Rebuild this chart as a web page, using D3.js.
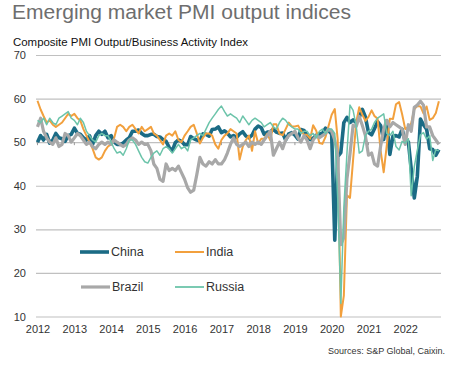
<!DOCTYPE html>
<html><head><meta charset="utf-8">
<script src="https://cdn.jsdelivr.net/npm/d3@7"></script>
<style>
body{margin:0;background:#fff;}
svg{display:block;font-family:"Liberation Sans",Arial,sans-serif;}
</style></head>
<body><svg id="c" width="449" height="365"></svg>
<script>
const startYear = 2012;
const yearLabels = ["2012","2013","2014","2015","2016","2017","2018","2019","2020","2021","2022"];
const yTicks = [10,20,30,40,50,60,70];
const seriesNames = ["China","India","Brazil","Russia"];

const china = [
50.0,51.5,50.5,51.8,49.8,50.5,52.0,51.0,50.8,50.2,51.5,51.8,
53.2,52.0,51.8,51.0,50.5,51.5,49.5,51.5,52.5,51.8,52.5,51.0,
51.5,50.0,49.5,49.5,49.8,50.5,51.0,52.5,52.5,52.8,52.0,51.5,
51.5,51.8,51.8,51.3,51.2,50.6,50.2,48.8,48.0,49.9,50.5,50.2,
49.4,49.4,51.3,50.8,50.5,50.3,51.9,51.8,51.4,52.9,53.0,53.5,
52.2,52.6,52.1,51.2,51.5,51.1,51.9,52.4,51.4,51.0,51.6,53.0,
53.7,53.3,51.8,52.3,52.3,53.0,52.3,52.0,52.1,50.5,51.9,52.2,
51.6,50.7,52.9,52.7,51.5,50.6,50.9,51.6,51.9,52.0,53.2,52.6,
51.9,27.5,46.7,47.6,54.5,55.7,54.5,55.1,54.5,55.7,57.5,55.8,
52.2,51.7,53.1,54.7,53.8,50.6,54.9,47.2,51.4,51.5,51.2,53.0,
50.1,50.1,43.9,37.2,42.2,55.3,54.0,53.0,48.5,48.3,47.0,48.3];

const india = [
59.5,57.5,56.0,54.5,55.0,54.0,53.5,54.0,54.5,55.5,56.5,56.0,
56.5,55.5,55.0,53.0,51.5,50.0,48.5,46.5,46.0,46.5,48.0,49.0,
49.5,51.0,53.5,54.0,53.5,52.5,53.5,54.0,53.0,52.0,53.5,52.5,
53.0,53.5,52.0,51.5,50.5,49.5,51.5,52.0,51.5,52.5,50.5,50.0,
51.5,52.5,53.5,54.0,52.0,49.7,51.0,52.0,52.0,51.5,49.5,48.5,
50.5,51.5,52.0,53.0,52.5,52.0,46.0,49.0,50.5,51.5,48.0,52.5,
49.7,50.8,50.8,51.9,50.4,54.1,54.1,51.9,51.6,53.0,54.5,53.6,
53.6,53.8,52.7,51.7,51.7,50.8,53.9,52.6,49.8,49.6,51.2,53.7,
56.3,57.6,50.6,10.0,14.8,37.8,37.2,46.0,54.6,58.0,56.3,54.9,
55.8,57.3,56.0,55.4,48.1,43.1,49.2,55.4,55.3,58.7,59.2,56.4,
53.0,53.5,54.3,57.6,58.3,58.2,56.6,58.2,55.1,55.5,56.7,59.4];

const brazil = [
53.5,55.5,52.5,51.0,50.0,49.5,51.0,49.0,49.5,52.0,51.5,50.0,
51.0,52.0,51.5,50.5,49.5,50.0,49.0,48.5,49.5,50.0,49.5,50.0,
49.5,50.5,50.0,49.5,49.0,49.5,50.5,51.0,50.5,49.5,50.0,49.5,
49.5,48.0,45.0,44.0,41.5,41.0,45.0,43.5,44.0,43.5,44.5,43.0,
41.5,39.5,38.5,39.0,42.5,46.5,45.0,44.5,45.5,45.0,46.0,45.0,
45.0,46.0,47.5,49.5,51.0,49.5,49.0,49.5,50.0,49.0,50.0,49.5,
50.0,49.5,50.5,51.5,52.5,47.0,48.5,50.0,48.5,50.5,51.5,52.0,
52.5,51.0,50.0,51.5,50.5,48.5,50.5,51.5,51.0,51.5,52.0,53.0,
52.5,50.5,47.0,26.5,28.1,41.6,47.3,53.9,53.6,55.9,53.8,51.5,
47.0,47.5,45.0,44.5,49.0,53.0,55.0,53.5,54.5,54.0,53.5,53.0,
49.5,54.0,52.5,58.0,58.5,59.4,58.5,53.5,53.5,51.5,50.5,49.5];

const russia = [
55.0,54.5,55.5,54.0,55.5,54.5,54.0,55.5,56.0,56.5,57.0,55.5,
55.0,54.0,55.5,54.5,52.5,51.5,50.5,50.0,51.5,52.0,51.5,51.5,
50.0,48.5,47.5,47.8,47.0,48.5,50.5,50.5,49.5,48.0,46.5,45.5,
45.2,46.5,47.5,48.0,47.0,48.5,49.0,48.5,47.5,48.5,49.5,48.5,
49.0,48.0,50.5,51.0,51.5,52.0,51.5,53.0,54.5,55.5,56.5,57.5,
58.3,57.0,56.0,56.5,56.0,55.5,54.5,56.0,55.0,54.0,55.0,55.5,
55.0,54.5,53.5,54.0,54.5,53.5,53.0,54.5,55.5,55.0,54.0,53.5,
53.0,53.0,52.0,52.5,52.5,51.5,52.0,51.0,52.5,53.0,52.0,53.0,
53.0,52.0,37.2,13.0,35.0,47.5,58.5,57.3,53.7,47.5,48.0,51.5,
52.5,53.0,54.5,55.5,56.0,56.5,52.0,51.5,52.5,49.0,48.2,50.2,
49.8,50.8,37.7,44.4,48.2,51.7,52.2,50.7,51.5,45.8,48.3,48.0];

const colors = {China:"#1b6b85", India:"#f2a03d", Brazil:"#a8a8a8", Russia:"#6cc4aa"};
const widths = {China:3.6, India:2, Brazil:3.2, Russia:1.5};
const data = {China:china, India:india, Brazil:brazil, Russia:russia};

const svg = d3.select("#c");
const x = d3.scaleTime().domain([new Date(2012,0,1), new Date(2023,0,1)]).range([37.5, 442]);
const y = d3.scaleLinear().domain([10,70]).range([316.5, 55]);
const dateOf = i => new Date(startYear + Math.floor(i/12), i%12, 1);

// title
svg.append("text").attr("x",12).attr("y",19).attr("font-size",20).attr("fill","#6e6e6e")
  .attr("textLength",339).attr("lengthAdjust","spacingAndGlyphs")
  .text("Emerging market PMI output indices");
svg.append("text").attr("x",13).attr("y",46).attr("font-size",11.5).attr("fill","#111")
  .attr("textLength",235).attr("lengthAdjust","spacingAndGlyphs")
  .text("Composite PMI Output/Business Activity Index");

// y grid
const yAxis = d3.axisLeft(y).tickValues(yTicks).tickSize(-(441-36)).tickPadding(10);
const gy = svg.append("g").attr("transform","translate(36,0)").call(yAxis);
gy.select(".domain").remove();
gy.selectAll(".tick line").attr("stroke","#c0c0c0").attr("stroke-width",1.2);
gy.selectAll(".tick text").attr("font-size",11).attr("fill","#333").attr("x",-10).attr("text-anchor","end");

// x axis labels
const xAxis = d3.axisBottom(x).tickValues(yearLabels.map(s=>new Date(+s,0,1)))
  .tickFormat((d,i)=>yearLabels[i]).tickSize(0).tickPadding(9);
const gx = svg.append("g").attr("transform",`translate(0,${y(10)})`).call(xAxis);
gx.select(".domain").remove();
gx.selectAll(".tick text").attr("font-size",11).attr("fill","#333");

// small ticks on 50 line
svg.append("g").selectAll("line").data(yearLabels).join("line")
  .attr("x1",d=>x(new Date(+d,0,1))).attr("x2",d=>x(new Date(+d,0,1)))
  .attr("y1",y(50)).attr("y2",y(50)+3).attr("stroke","#999");

// lines
const line = d3.line().x((d,i)=>x(dateOf(i))).y(d=>y(Math.max(10,d))).curve(d3.curveLinear);
seriesNames.forEach(n=>{
  svg.append("path").datum(data[n]).attr("d",line).attr("fill","none")
    .attr("stroke",colors[n]).attr("stroke-width",widths[n]).attr("stroke-linejoin","round");
});

// legend
const leg = [
  {n:"China", x:80, y:252},
  {n:"India", x:175, y:252},
  {n:"Brazil", x:81, y:287},
  {n:"Russia", x:175, y:287}
];
const lg = svg.append("g");
leg.forEach(l=>{
  lg.append("line").attr("x1",l.x).attr("x2",l.x+29).attr("y1",l.y).attr("y2",l.y)
    .attr("stroke",colors[l.n]).attr("stroke-width",widths[l.n]+ (l.n==="Russia"?0.3:0));
  lg.append("text").attr("x",l.x+31).attr("y",l.y).attr("dy","0.35em").attr("font-size",12.5)
    .attr("fill","#333").text(l.n);
});

svg.append("text").attr("x",445).attr("y",354).attr("text-anchor","end").attr("font-size",9)
  .attr("fill","#333").text("Sources: S&P Global, Caixin.");
</script></body></html>
